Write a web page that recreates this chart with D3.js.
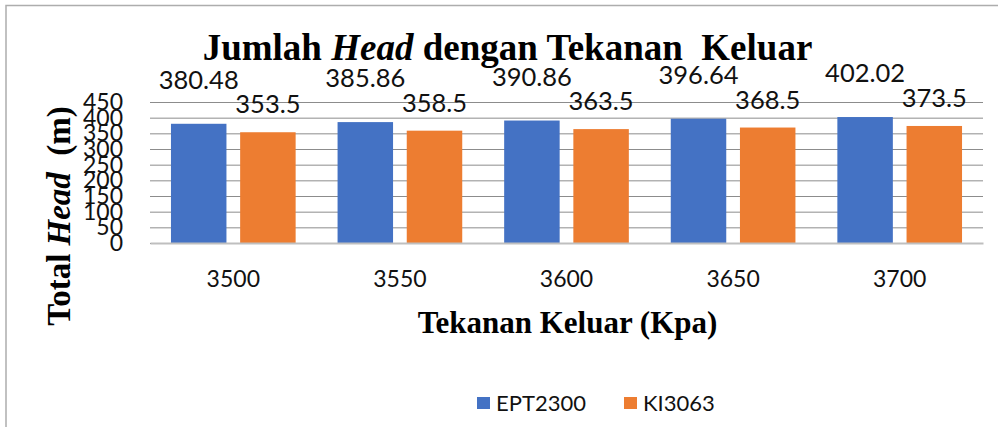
<!DOCTYPE html>
<html>
<head>
<meta charset="utf-8">
<script src="https://cdn.jsdelivr.net/npm/d3@7"></script>
<style>
  body { margin: 0; background: #fff; }
  svg text { white-space: pre; }
</style>
</head>
<body>
<svg width="998" height="427"></svg>
<script>
//  chart values
const categories = ['3500', '3550', '3600', '3650', '3700'];
const seriesNames = ['EPT2300', 'KI3063'];
const ept2300 = [380.48, 385.86, 390.86, 396.64, 402.02];
const ki3063 = [353.5, 358.5, 363.5, 368.5, 373.5];
const yTicks = [0, 50, 100, 150, 200, 250, 300, 350, 400, 450];

const colors = ['#4472C4', '#ED7D31'];
const labelGap = [35, 19];   // distance from bar top to label baseline, per series

const svgElem = d3.select('svg');
const plot = { left: 150, right: 983, top: 102, bottom: 243 };
const sansFont = 'Lato, "Liberation Sans", sans-serif';
const serifFont = '"Liberation Serif", "Times New Roman", serif';

// frame
svgElem.append('rect')
    .attr('x', 6).attr('y', 5.5)
    .attr('width', 1100).attr('height', 600)
    .attr('fill', 'none')
    .attr('stroke', '#adadad')
    .attr('stroke-width', 1.5);

// ======================= SCALES ===============================
const xScale = d3.scaleBand()
    .domain(categories)
    .range([plot.left, plot.right]);

const seriesScale = d3.scaleBand()
    .domain(seriesNames)
    .range([0, xScale.bandwidth()])
    .paddingInner(0.198)
    .paddingOuter(0.303);

const yScale = d3.scaleLinear()
    .domain([0, 450])
    .range([plot.bottom, plot.top]);

// ======================= Y-AXIS + GRID ===============================
const yAxis = svgElem.append('g')
    .attr('transform', `translate(${plot.left},0)`)
    .call(d3.axisLeft(yScale)
        .tickValues(yTicks)
        .tickSize(-(plot.right - plot.left))
        .tickPadding(27));
yAxis.select('.domain').remove();
yAxis.selectAll('line').attr('stroke', '#8c8c8c').attr('stroke-width', 1);
yAxis.selectAll('text')
    .attr('font-family', sansFont)
    .attr('font-size', 23)
    .attr('fill', '#111');

// ======================= X-AXIS ===============================
const xAxis = svgElem.append('g')
    .attr('transform', `translate(0,${plot.bottom})`)
    .call(d3.axisBottom(xScale).tickSize(0));
xAxis.select('.domain')
    .attr('stroke', '#bfbfbf')
    .attr('stroke-width', 2);
xAxis.selectAll('text')
    .attr('y', 44)
    .attr('dy', 0)
    .attr('font-family', sansFont)
    .attr('font-size', 23)
    .attr('fill', '#111');

// ======================= BARS ===============================
const seriesData = [ept2300, ki3063];
const rows = [];
seriesData.forEach((values, s) => {
    values.forEach((v, i) => rows.push({ cat: categories[i], name: seriesNames[s], s: s, v: v }));
});

svgElem.append('g')
    .selectAll('rect')
    .data(rows)
    .enter()
    .append('rect')
    .attr('x', d => xScale(d.cat) + seriesScale(d.name))
    .attr('y', d => yScale(d.v))
    .attr('width', seriesScale.bandwidth())
    .attr('height', d => yScale(0) - yScale(d.v))
    .attr('fill', d => colors[d.s]);

// redraw axis line above bars
xAxis.raise();

// data labels
svgElem.append('g')
    .selectAll('text')
    .data(rows)
    .enter()
    .append('text')
    .attr('x', d => xScale(d.cat) + seriesScale(d.name) + seriesScale.bandwidth() / 2)
    .attr('y', d => yScale(d.v) - labelGap[d.s])
    .attr('text-anchor', 'middle')
    .attr('font-family', sansFont)
    .attr('font-size', 25.5)
    .attr('fill', '#111')
    .text(d => d.v);

// ======================= TITLES ===============================
const title = svgElem.append('text')
    .attr('x', 507.5).attr('y', 60)
    .attr('text-anchor', 'middle')
    .attr('font-family', serifFont)
    .attr('font-weight', 'bold')
    .attr('font-size', 37);
title.append('tspan').text('Jumlah ');
title.append('tspan').attr('font-style', 'italic').text('Head');
title.append('tspan').text(' dengan Tekanan  Keluar');

const yTitle = svgElem.append('text')
    .attr('transform', 'translate(70,216) rotate(-90)')
    .attr('text-anchor', 'middle')
    .attr('font-family', serifFont)
    .attr('font-weight', 'bold')
    .attr('font-size', 33);
yTitle.append('tspan').text('Total ');
yTitle.append('tspan').attr('font-style', 'italic').text('Head');
yTitle.append('tspan').text('  (m)');

svgElem.append('text')
    .attr('x', 567.5).attr('y', 333)
    .attr('text-anchor', 'middle')
    .attr('font-family', serifFont)
    .attr('font-weight', 'bold')
    .attr('font-size', 31)
    .text('Tekanan Keluar (Kpa)');

// ======================= LEGEND ===============================
const legendX = [477, 624];
const legend = svgElem.append('g')
    .selectAll('g')
    .data(seriesNames)
    .enter()
    .append('g')
    .attr('transform', (d, i) => `translate(${legendX[i]},397)`);
legend.append('rect')
    .attr('width', 13).attr('height', 12)
    .attr('fill', (d, i) => colors[i]);
legend.append('text')
    .attr('x', 19).attr('y', 14)
    .attr('font-family', sansFont)
    .attr('font-size', 22)
    .attr('fill', '#111')
    .text(d => d);
</script>
</body>
</html>
